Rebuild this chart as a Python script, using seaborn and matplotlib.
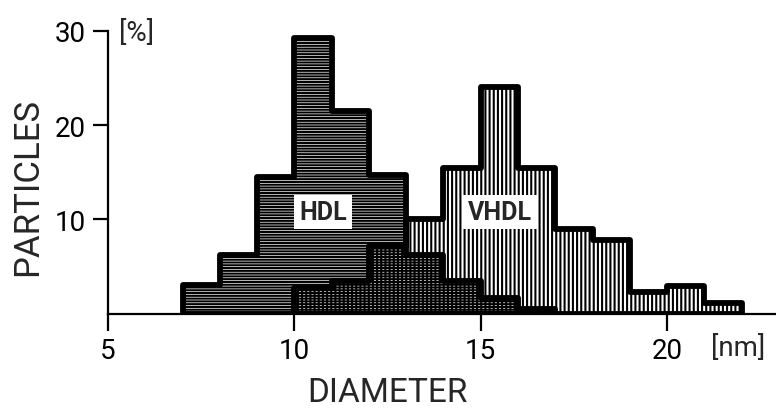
import numpy as np
import matplotlib
matplotlib.use("Agg")
import matplotlib.pyplot as plt
import seaborn as sns

sns.set_style("ticks")
plt.rcParams['font.family'] = ['Roboto', 'DejaVu Sans']
plt.rcParams['hatch.linewidth'] = 1.5

# histogram data (left bin edge in nm, % of particles)
hdl_bins = [7, 8, 9, 10, 11, 12, 13, 14, 15, 16]
hdl_pct = [3.0, 6.2, 14.5, 29.3, 21.5, 14.7, 6.2, 3.5, 1.6, 0.5]
vhdl_bins = [10, 11, 12, 13, 14, 15, 16, 17, 18, 19, 20, 21]
vhdl_pct = [2.7, 3.4, 7.2, 10.0, 15.4, 24.1, 15.4, 9.0, 7.8, 2.3, 2.9, 1.1]

x_ticks = [5, 10, 15, 20]
y_ticks = [10, 20, 30]

fig = plt.figure(figsize=(7.76, 4.14), dpi=100)
ax = fig.add_axes([108/776, 99.5/414, 668/776, 282.5/414])

# HDL: horizontal lines, white background
sns.histplot(x=np.array(hdl_bins) + 0.5, weights=hdl_pct, binwidth=1,
             binrange=(hdl_bins[0], hdl_bins[-1] + 1), element="step",
             fill=True, color="black", facecolor="white", edgecolor="black",
             hatch="------", linewidth=4.2, alpha=1, ax=ax)
# VHDL: vertical lines, transparent so the overlap becomes cross-hatched
sns.histplot(x=np.array(vhdl_bins) + 0.5, weights=vhdl_pct, binwidth=1,
             binrange=(vhdl_bins[0], vhdl_bins[-1] + 1), element="step",
             fill=True, color="black", facecolor="none", edgecolor="black",
             hatch="||||", linewidth=4.2, alpha=1, ax=ax)

box = dict(boxstyle="square,pad=0.2", fc="white", ec="none")
ax.text(10.77, 10.8, "HDL", ha="center", va="center", fontsize=18,
        fontweight="bold", bbox=box, zorder=5)
ax.text(15.52, 10.8, "VHDL", ha="center", va="center", fontsize=18,
        fontweight="bold", bbox=box, zorder=5)

ax.set_xlim(5, 22.92)
ax.set_ylim(0, 30)
ax.set_xticks(x_ticks)
ax.set_yticks(y_ticks)
ax.tick_params(axis="both", direction="out", width=1.6, labelsize=20,
               colors="black")
ax.tick_params(axis="x", length=12, pad=5)
ax.tick_params(axis="y", length=11, pad=5)
sns.despine(ax=ax)
for s in ["left", "bottom"]:
    ax.spines[s].set_linewidth(1.6)
    ax.spines[s].set_color("black")

ax.set_xlabel("DIAMETER", fontsize=24)
ax.set_ylabel("PARTICLES", fontsize=25)
ax.xaxis.set_label_coords(0.419, -0.222)
ax.yaxis.set_label_coords(-0.095, 0.45)

ax.text(0.016, 0.996, "[%]", transform=ax.transAxes, ha="left",
        va="center", fontsize=20)
ax.text(0.943, -0.119, "[nm]", transform=ax.transAxes, ha="center",
        va="center", fontsize=20)

fig.savefig("out.png", dpi=100)
